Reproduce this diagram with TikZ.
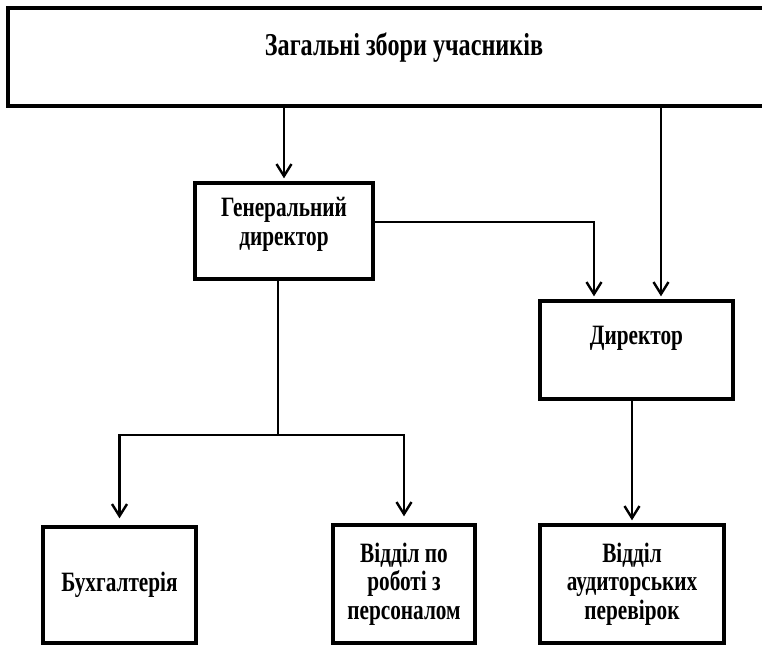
\documentclass[tikz,border=0pt]{standalone}
\usepackage{fontspec}
\setmainfont{Liberation Serif}[FakeStretch=0.76]
\usetikzlibrary{arrows.meta}
\begin{document}
\begin{tikzpicture}
    \tikzstyle{box} = [rectangle, draw=black, line width=1.7pt, align=center, font=\bfseries\fontsize{14}{14.3}\selectfont, inner sep=2pt]
    \tikzstyle{dept} = [box]
    \tikzstyle{line} = [line width=1.2pt]
    \tikzstyle{arrow} = [line, -{Straight Barb[length=6pt,width=7.5pt]}, shorten >=1.5pt]

    \useasboundingbox (0,0) rectangle (381pt,-322pt);

    \node (meeting) [box, minimum width=396pt, minimum height=49pt, font=\bfseries\fontsize{15.9}{17}\selectfont, text depth=13pt] at (202pt,-28.5pt) {Загальні збори учасників};
    \node (gendir) [box, below of=meeting, node distance=87pt, xshift=-60pt, minimum width=89pt, minimum height=48pt, text depth=9.5pt] {Генеральний\\директор};
    \node (dir) [box, below of=gendir, node distance=59.5pt, xshift=176.25pt, minimum width=96.5pt, minimum height=49pt, text depth=15pt] {Директор};
    \node (acc) [dept, below of=gendir, node distance=177pt, xshift=-82.25pt, minimum width=76.5pt, minimum height=58pt] {Бухгалтерія};
    \node (hr) [dept, right of=acc, node distance=142.25pt, yshift=0.5pt, minimum width=71pt, minimum height=59pt] {Відділ по\\роботі з\\персоналом};
    \node (audit) [dept, below of=dir, node distance=117pt, xshift=-2.25pt, minimum width=92pt, minimum height=59pt] {Відділ\\аудиторських\\перевірок};

    \coordinate (dirleft) at ([xshift=-21.25pt]dir.north);
    \coordinate (dirright) at ([xshift=12.25pt]dir.north);
    \coordinate (split) at ([xshift=-3pt,yshift=-77pt]gendir.south);

    \draw[arrow] (meeting.south -| gendir.north) -- (gendir.north);
    \draw[arrow] (meeting.south -| dirright) -- (dirright);
    \draw[arrow] ([yshift=4.5pt]gendir.east) -| (dirleft);
    \draw[line] ([xshift=-3pt]gendir.south) -- (split);
    \draw[arrow, shorten >=3.5pt] (split) -| (acc.north);
    \draw[arrow, shorten >=3.5pt] (split) -| (hr.north);
    \draw[arrow] (audit.north |- dir.south) -- (audit.north);
\end{tikzpicture}
\end{document}
